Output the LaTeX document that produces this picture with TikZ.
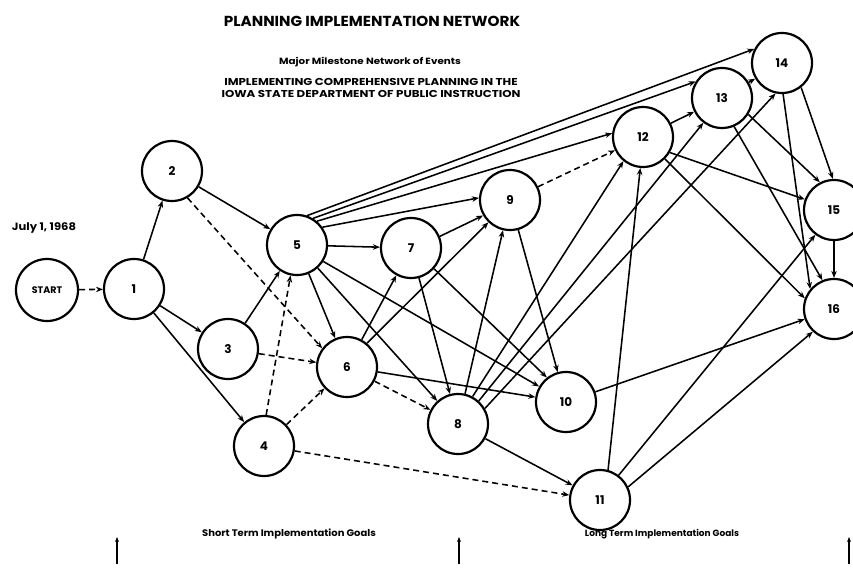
\documentclass[tikz,border=0pt]{standalone}
\usepackage{graphicx}
\usepackage{fontspec}
\setmainfont{Poppins}
\usetikzlibrary{arrows.meta}
% wide lettering for the headings
\newcommand{\widetext}[2]{\scalebox{#1}[1]{#2}}
\begin{document}
\begin{tikzpicture}[x=1pt,y=-1pt,
  event/.style={circle,draw,line width=2.2pt,minimum size=60pt,inner sep=0pt,
                font=\bfseries\fontsize{12}{12}\selectfont},
  link/.style={line width=1.55pt,-{Stealth[length=7pt,width=5.5pt]}},
  dummy/.style={link,dash pattern=on 6pt off 4pt},
  caption/.style={font=\bfseries\fontsize{#1}{#1}\selectfont,inner sep=0pt},
  goalmark/.style={line width=1.2pt,-{Stealth[length=5pt,width=4pt]}},
]
\useasboundingbox (0,0) rectangle (853,571);

% headings
\node[caption=14.5] (title) at (372,21) {\widetext{1.05}{PLANNING IMPLEMENTATION NETWORK}};
\node[caption=9] (sub) at (370,62) {\widetext{1.15}{Major Milestone Network of Events}};
\node[caption=10] (headA) at (371,81.5) {\widetext{1.18}{IMPLEMENTING COMPREHENSIVE PLANNING IN THE}};
\node[caption=10] (headB) at (371,94) {\widetext{1.18}{IOWA STATE DEPARTMENT OF PUBLIC INSTRUCTION}};
\node[caption=10.5] (date) at (44,228) {\widetext{1.1}{July 1, 1968}};

% events
\node[event,font=\bfseries\fontsize{9.5}{10}\selectfont,minimum size=62pt] (start) at (47,290) {START};
\node[event] (n1)  at (134,289) {1};
\node[event] (n2)  at (172,171) {2};
\node[event] (n3)  at (228,349) {3};
\node[event] (n4)  at (264,446) {4};
\node[event] (n5)  at (297,245) {5};
\node[event] (n6)  at (347,367) {6};
\node[event] (n7)  at (411,248) {7};
\node[event] (n8)  at (458,424) {8};
\node[event] (n9)  at (510,200) {9};
\node[event] (n10) at (566,402) {10};
\node[event] (n11) at (600,500) {11};
\node[event] (n12) at (643,137) {12};
\node[event] (n13) at (722,98)  {13};
\node[event] (n14) at (782,63)  {14};
\node[event] (n15) at (834,210) {15};
\node[event] (n16) at (834,309) {16};

% activities
\draw[dummy] (start) -- (n1);
\draw[link] (n1) -- (n2);
\draw[link] (n1) -- (n3);
\draw[link] (n1) -- (n4);
\draw[link] (n2) -- (n5);
\draw[dummy] (n2.300) -- (n6.143);
\draw[link] (n3) -- (n5);
\draw[dummy] (n3) -- (n6);
\draw[dummy] (n4.86) -- (n5.258);
\draw[dummy] (n4) -- (n6);
\draw[dummy] (n4) -- (n11);
\draw[link] (n5) -- (n6);
\draw[link] (n5) -- (n7);
\draw[link] (n5) -- (n8);
\draw[link] (n5.35) -- (n9.176);
\draw[link] (n5.328) -- (n10.150);
\draw[link] (n5.50) -- (n12.173);
\draw[link] (n5.59) -- (n13.148);
\draw[link] (n5.71) -- (n14.153);
\draw[link] (n6) -- (n7);
\draw[dummy] (n6) -- (n8);
\draw[link] (n6.50) -- (n9.226);
\draw[link] (n6) -- (n10);
\draw[link] (n7) -- (n8);
\draw[link] (n7.22) -- (n9.210);
\draw[link] (n7.318) -- (n10.128);
\draw[link] (n8) -- (n9);
\draw[link] (n8) -- (n11);
\draw[link] (n8.62) -- (n12.231);
\draw[link] (n8.48) -- (n13.233);
\draw[link] (n8.30) -- (n14.258);
\draw[link] (n9) -- (n10);
\draw[dummy] (n9) -- (n12);
\draw[link] (n10) -- (n16);
\draw[link] (n11.75) -- (n12.265);
\draw[link] (n11.53) -- (n15.233);
\draw[link] (n11.25) -- (n16.227);
\draw[link] (n12) -- (n13);
\draw[link] (n12.330) -- (n15.160);
\draw[link] (n12.315) -- (n16.160);
\draw[link] (n13) -- (n14);
\draw[link] (n13.328) -- (n15.117);
\draw[link] (n13.293) -- (n16.112);
\draw[link] (n14.308) -- (n15.92);
\draw[link] (n14.272) -- (n16.140);
\draw[link] (n15) -- (n16);

% time scale
\node[caption=9.5] (shortgoals) at (289,534) {\widetext{1.05}{Short Term Implementation Goals}};
\node[caption=9] (longgoals) at (662,534) {Long Term Implementation Goals};
\coordinate (t0a) at (117,564); \coordinate (t0b) at (117,537);
\coordinate (t1a) at (459,564); \coordinate (t1b) at (459,537);
\coordinate (t2a) at (849,564); \coordinate (t2b) at (849,537);
\draw[goalmark] (t0a) -- (t0b);
\draw[goalmark] (t1a) -- (t1b);
\draw[goalmark] (t2a) -- (t2b);
\end{tikzpicture}
\end{document}
